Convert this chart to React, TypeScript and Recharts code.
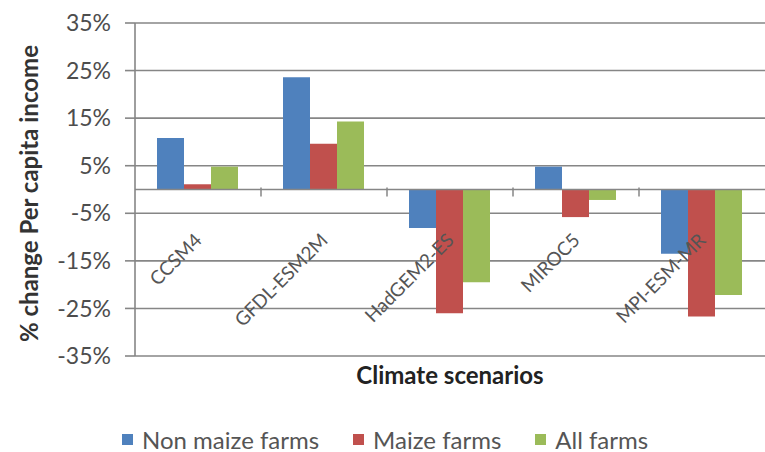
import React from "react";
import {
  BarChart,
  Bar,
  XAxis,
  YAxis,
  CartesianGrid,
  ReferenceLine,
  Legend,
} from "recharts";

const categories = ["CCSM4", "GFDL-ESM2M", "HadGEM2-ES", "MIROC5", "MPI-ESM-MR"];
const nonMaizeFarms = [10.8, 23.6, -8.1, 4.8, -13.5];
const maizeFarms = [1.1, 9.6, -26.0, -5.8, -26.7];
const allFarms = [4.8, 14.3, -19.5, -2.2, -22.2];
const yTicks = [-35, -25, -15, -5, 5, 15, 25, 35];

const series = [
  { key: "nonMaize", label: "Non maize farms", color: "#4F81BD" },
  { key: "maize", label: "Maize farms", color: "#C0504D" },
  { key: "all", label: "All farms", color: "#9BBB59" },
];

const data = categories.map((name, i) => ({
  name,
  nonMaize: nonMaizeFarms[i],
  maize: maizeFarms[i],
  all: allFarms[i],
}));

// layout
const W = 765;
const H = 452;
const TOP = 23;
const Y_AXIS_W = 135;
const X_AXIS_H = 64;
const LEGEND_H = 32;
const PLOT_H = H - TOP - X_AXIS_H - LEGEND_H;
const PLOT_W = W - Y_AXIS_W;
const BAND = PLOT_W / categories.length;
// the domain is symmetric, so zero sits halfway down the plot
const ZERO_Y = TOP + PLOT_H / 2;

const GRID = "#868686";
const FONT = "Lato, 'Open Sans', sans-serif";

function CategoryTick(props: any) {
  const { x, payload, index } = props;
  const tx = x + 5;
  const ty = ZERO_Y + 52;
  return (
    <g>
      {index > 0 && (
        <line
          x1={x - BAND / 2}
          x2={x - BAND / 2}
          y1={ZERO_Y - 2}
          y2={ZERO_Y + 7}
          stroke={GRID}
          strokeWidth={1.5}
        />
      )}
      <text
        x={tx}
        y={ty}
        transform={`rotate(-45 ${tx} ${ty})`}
        textAnchor="end"
        fill="#555"
        fontSize={19}
        fontFamily={FONT}
      >
        {payload.value}
      </text>
    </g>
  );
}

function LegendContent() {
  return (
    <div
      style={{
        height: LEGEND_H,
        display: "flex",
        alignItems: "center",
        paddingLeft: 122,
        paddingTop: 6,
        boxSizing: "border-box",
        gap: 34,
        fontFamily: FONT,
        fontSize: 24,
        color: "#555",
      }}
    >
      {series.map((s) => (
        <div key={s.key} style={{ display: "flex", alignItems: "center" }}>
          <span
            style={{
              width: 11,
              height: 11,
              background: s.color,
              marginRight: 9,
              display: "inline-block",
            }}
          />
          {s.label}
        </div>
      ))}
    </div>
  );
}

export default function App() {
  return (
    <div
      style={{
        position: "absolute",
        left: 0,
        top: 0,
        width: W,
        height: H,
        background: "#fff",
        fontFamily: FONT,
      }}
    >
      <BarChart
        width={W}
        height={H}
        data={data}
        margin={{ top: TOP, right: 0, bottom: 0, left: 0 }}
        barCategoryGap={22}
        barGap={0}
      >
        <CartesianGrid vertical={false} stroke={GRID} strokeWidth={1.6} />
        <YAxis
          width={Y_AXIS_W}
          domain={[-35, 35]}
          ticks={yTicks}
          tickFormatter={(v: number) => `${v}%`}
          tick={{ fill: "#4d4d4d", fontSize: 23, fontFamily: FONT }}
          tickSize={10}
          tickMargin={14}
          axisLine={{ stroke: GRID, strokeWidth: 1.6 }}
          tickLine={{ stroke: GRID, strokeWidth: 1.6 }}
          interval={0}
          label={{
            content: ({ viewBox }: any) => {
              const cx = viewBox.x + 28;
              const cy = viewBox.y + viewBox.height / 2 + 4;
              return (
                <text
                  x={cx}
                  y={cy}
                  transform={`rotate(-90 ${cx} ${cy})`}
                  textAnchor="middle"
                  dominantBaseline="central"
                  fontSize={24}
                  fontWeight={700}
                  fill="#333"
                  fontFamily={FONT}
                >
                  % change Per capita income
                </text>
              );
            },
          }}
        />
        <XAxis
          dataKey="name"
          height={X_AXIS_H}
          axisLine={false}
          tickLine={false}
          interval={0}
          tick={<CategoryTick />}
          label={{
            content: ({ viewBox }: any) => (
              <text
                x={viewBox.x + viewBox.width / 2}
                y={viewBox.y + 28}
                textAnchor="middle"
                fontSize={24}
                fontWeight={700}
                fill="#222"
                fontFamily={FONT}
              >
                Climate scenarios
              </text>
            ),
          }}
        />
        <ReferenceLine y={0} stroke={GRID} strokeWidth={1.6} />
        {series.map((s) => (
          <Bar
            key={s.key}
            dataKey={s.key}
            name={s.label}
            fill={s.color}
            isAnimationActive={false}
          />
        ))}
        <Legend
          verticalAlign="bottom"
          align="left"
          height={LEGEND_H}
          content={<LegendContent />}
        />
      </BarChart>
    </div>
  );
}
